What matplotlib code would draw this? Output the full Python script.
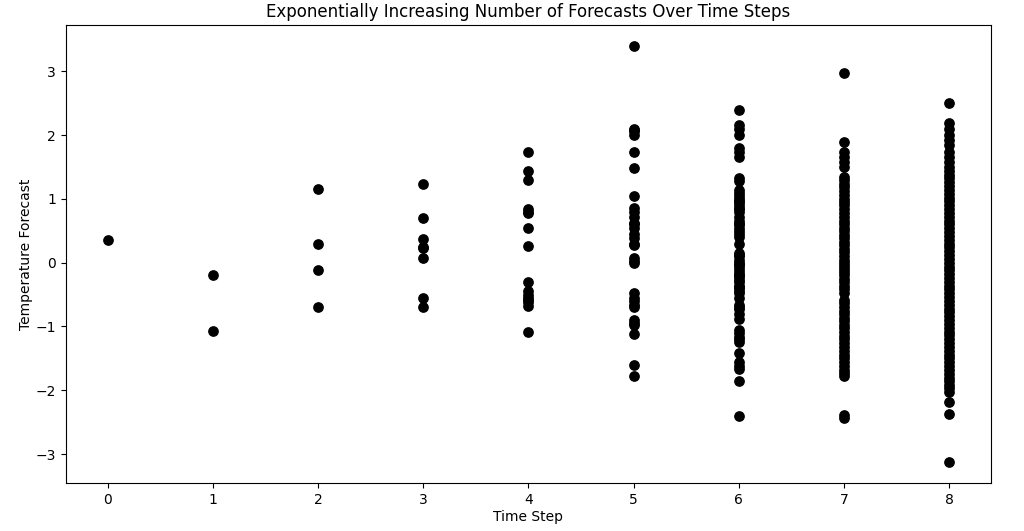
import matplotlib.pyplot as plt

# forecasts per time step
step0 = [0.35]
step1 = [-0.2, -1.07]
step2 = [1.15, 0.29, -0.11, -0.7]
step3 = [1.24, 0.7, 0.37, 0.25, 0.23, 0.07, -0.56, -0.7]
step4 = [1.73, 1.43, 1.3, 0.84, 0.8, 0.78, 0.55, 0.26, -0.31, -0.45, -0.5,
         -0.55, -0.58, -0.62, -0.68, -1.09]
step5 = [3.4, 2.1, 2.06, 2.0, 1.74, 1.48, 1.05, 0.85, 0.8, 0.72, 0.6, 0.55,
         0.45, 0.38, 0.3, 0.28, 0.07, 0.02, -0.47, -0.55, -0.6, -0.66, -0.7,
         -0.9, -0.94, -0.98, -1.12, -1.6, -1.77, 0.0, 0.62, 2.08]
step6 = [2.39, 2.16, 2.1, 2.0, 1.8, 1.74, 1.66, 1.33, 1.28, 1.14, 1.1, 1.05,
         1.0, 0.95, 0.9, 0.84, 0.79, 0.72, 0.66, 0.6, 0.55, 0.5, 0.45, 0.4,
         0.15, 0.1, 0.05, 0.0, -0.04, -0.08, -0.13, -0.18, -0.22, -0.27,
         -0.31, -0.36, -0.4, -0.44, -0.47, -0.55, -0.66, -0.72, -0.8, -0.89,
         -1.05, -1.1, -1.16, -1.25, -1.41, -1.56, -1.62, -1.67, -1.86, -2.41,
         0.12, -0.02, 0.3, -0.2, 0.97, 0.6, -0.7, -1.2, -0.38, 0.85]
step7 = [2.98, 1.89, 1.73, 1.66, 1.58, 1.5, 1.35, 1.3, 1.24, 1.18, 1.12,
         1.06, 1.0, 0.95, 0.9, 0.84, 0.78, 0.72, 0.66, 0.6, 0.55, 0.5, 0.44,
         0.38, 0.33, 0.27, 0.22, 0.16, 0.11, 0.05, 0.0, -0.05, -0.1, -0.15,
         -0.2, -0.26, -0.31, -0.36, -0.42, -0.47, -0.58, -0.63, -0.69, -0.75,
         -0.8, -0.86, -0.92, -0.98, -1.03, -1.09, -1.15, -1.2, -1.26, -1.32,
         -1.38, -1.44, -1.5, -1.56, -1.62, -1.68, -1.73, -1.78, -2.38, -2.43]
step8 = [2.51, 2.19, 2.1, 2.0, 1.92, 1.84, 1.73, 1.66, 1.58, 1.5, 1.44,
         1.38, 1.32, 1.26, 1.2, 1.14, 1.08, 1.02, 0.96, 0.9, 0.84, 0.78, 0.72,
         0.66, 0.6, 0.54, 0.48, 0.42, 0.36, 0.3, 0.24, 0.18, 0.12, 0.06, 0.0,
         -0.06, -0.12, -0.18, -0.24, -0.3, -0.36, -0.42, -0.48, -0.54, -0.6,
         -0.66, -0.72, -0.78, -0.84, -0.9, -0.96, -1.02, -1.08, -1.14, -1.2,
         -1.26, -1.32, -1.38, -1.44, -1.5, -1.56, -1.62, -1.68, -1.74, -1.8,
         -1.86, -1.92, -1.97, -2.02, -2.19, -2.37, -3.13]

forecasts = [step0, step1, step2, step3, step4, step5, step6, step7, step8]

fig = plt.figure(figsize=(10.24, 5.31), dpi=100)
for t, vals in enumerate(forecasts):
    plt.scatter([t] * len(vals), vals, color='black', s=45)

plt.title("Exponentially Increasing Number of Forecasts Over Time Steps")
plt.xlabel("Time Step", labelpad=2)
plt.ylabel("Temperature Forecast", labelpad=2)
plt.xticks(range(len(forecasts)))
plt.subplots_adjust(left=0.064, right=0.968, top=0.953, bottom=0.09)
plt.savefig("out.png", dpi=100)
